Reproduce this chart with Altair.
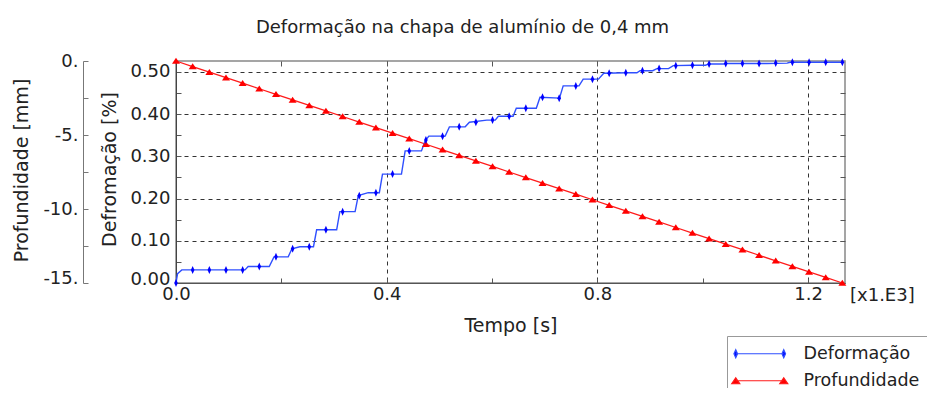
import altair as alt
import pandas as pd

# ---------------- data ----------------
series = ["Deformação", "Profundidade"]
cores_linha = ["#2f4fff", "#ff1a1a"]

# marker times (x1000 s)
tempo = [0.0000, 0.0316, 0.0633, 0.0949, 0.1265, 0.1581, 0.1898, 0.2214, 0.2530, 0.2846,
         0.3163, 0.3479, 0.3795, 0.4111, 0.4428, 0.4744, 0.5060, 0.5376, 0.5693, 0.6009,
         0.6325, 0.6641, 0.6958, 0.7274, 0.7590, 0.7906, 0.8223, 0.8539, 0.8855, 0.9171,
         0.9488, 0.9804, 1.0120, 1.0436, 1.0753, 1.1069, 1.1385, 1.1701, 1.2018, 1.2334,
         1.2650]

# deformation at the markers (%)
deformacao_marcadores = [0.000, 0.031, 0.031, 0.031, 0.031, 0.039, 0.062, 0.081, 0.086, 0.126,
                         0.169, 0.207, 0.214, 0.258, 0.313, 0.339, 0.348, 0.370, 0.381, 0.386,
                         0.395, 0.414, 0.440, 0.438, 0.467, 0.483, 0.497, 0.498, 0.503, 0.508,
                         0.515, 0.516, 0.519, 0.520, 0.520, 0.520, 0.521, 0.523, 0.523, 0.523,
                         0.523]

# depth at the markers (mm)
profundidade = [0.0, -0.375, -0.75, -1.125, -1.5, -1.875, -2.25, -2.625, -3.0, -3.375,
                -3.75, -4.125, -4.5, -4.875, -5.25, -5.625, -6.0, -6.375, -6.75, -7.125,
                -7.5, -7.875, -8.25, -8.625, -9.0, -9.375, -9.75, -10.125, -10.5, -10.875,
                -11.25, -11.625, -12.0, -12.375, -12.75, -13.125, -13.5, -13.875, -14.25, -14.625,
                -15.0]

# stair-shaped deformation curve (vertices)
tempo_linha = [0.000, 0.003, 0.011, 0.131, 0.137, 0.177, 0.186, 0.213, 0.220, 0.235,
               0.261, 0.267, 0.305, 0.311, 0.340, 0.346, 0.365, 0.386, 0.392, 0.428,
               0.435, 0.466, 0.473, 0.480, 0.511, 0.519, 0.549, 0.557, 0.590, 0.606,
               0.612, 0.640, 0.646, 0.684, 0.691, 0.728, 0.735, 0.765, 0.773, 0.802,
               0.812, 0.856, 0.875, 0.881, 0.905, 0.913, 0.935, 0.944, 0.982, 1.005,
               1.012, 1.040, 1.046, 1.122, 1.160, 1.166, 1.265]
deformacao_linha = [0.000, 0.022, 0.031, 0.031, 0.039, 0.039, 0.062, 0.062, 0.081, 0.086,
                    0.086, 0.126, 0.126, 0.169, 0.169, 0.207, 0.214, 0.214, 0.258, 0.258,
                    0.313, 0.313, 0.337, 0.348, 0.348, 0.370, 0.370, 0.381, 0.386, 0.386,
                    0.395, 0.395, 0.414, 0.414, 0.440, 0.438, 0.467, 0.467, 0.483, 0.483,
                    0.497, 0.498, 0.498, 0.503, 0.503, 0.508, 0.508, 0.515, 0.516, 0.516,
                    0.519, 0.519, 0.520, 0.520, 0.521, 0.523, 0.523]

x_ticks = [0.0, 0.2, 0.4, 0.6, 0.8, 1.0, 1.2]
def_ticks = [0.0, 0.05, 0.10, 0.15, 0.20, 0.25, 0.30, 0.35, 0.40, 0.45, 0.50]
prof_ticks = [0.0, -2.5, -5.0, -7.5, -10.0, -12.5, -15.0]

df_def_linha = pd.DataFrame({"tempo": tempo_linha, "valor": deformacao_linha, "serie": series[0]})
df_def_pts = pd.DataFrame({"tempo": tempo, "valor": deformacao_marcadores})
df_prof = pd.DataFrame({"tempo": tempo, "valor": profundidade, "serie": series[1]})

FONT = "DejaVu Sans"

# ---------------- scales ----------------
x_scale = alt.Scale(domain=[0, 1.27], nice=False, zero=False)
def_scale = alt.Scale(domain=[0, 0.526], nice=False, zero=False)
prof_scale = alt.Scale(domain=[-15, 0], nice=False, zero=False)

inward = {"expr": "-5"}

eixo_x = alt.Axis(
    orient="bottom", values=x_ticks, title="Tempo [s]",
    labelExpr="round(datum.value*10) % 4 == 0 ? format(datum.value, '.1f') : ''",
    tickSize=inward, labelPadding=7, tickColor="#555", domainColor="#555",
    grid=True, gridDash=[4, 4], gridColor="#333", gridWidth=1,
    gridOpacity={"condition": {"test": "round(datum.value*10) % 4 == 0 && datum.value > 0", "value": 1}, "value": 0},
    titleBaseline="alphabetic", titleY=48, labelFlush=False, labelOverlap=False,
)
eixo_x_topo = alt.Axis(orient="top", values=x_ticks, labels=False, domain=False, grid=False,
                       tickSize=inward, tickColor="#555", title=None)
eixo_def = alt.Axis(
    orient="left", values=def_ticks, title="Defromação [%]",
    labelExpr="round(datum.value*100) % 10 == 0 ? format(datum.value, '.2f') : ''",
    tickSize=inward, labelPadding=11, tickColor="#555", domainColor="#444",
    labelOffset={"condition": {"test": "datum.value == 0", "value": -4}, "value": 0},
    grid=True, gridDash=[4, 4], gridColor="#333", gridWidth=1,
    gridOpacity={"condition": {"test": "round(datum.value*100) % 10 == 0 && datum.value > 0", "value": 1}, "value": 0},
    titleAngle=270, titleBaseline="alphabetic", titleX=-61, titleY=108, titleAlign="center",
    labelFlush=False, labelOverlap=False,
)
eixo_dir = alt.Axis(orient="right", values=def_ticks, labels=False, domain=False, grid=False,
                    tickSize=inward, tickColor="#555", title=None)
eixo_prof = alt.Axis(
    orient="left", offset=93, values=prof_ticks, title="Profundidade [mm]",
    labelExpr="datum.value % 5 == 0 ? datum.value + '.' : ''",
    tickSize=inward, labelPadding=10, tickColor="#777", domainColor="#777",
    labelOffset={"condition": {"test": "datum.value == -15", "value": -5}, "value": 0},
    grid=False, titleAngle=270, titleBaseline="alphabetic", titleX=-56, titleY=109,
    titleAlign="center", labelFlush=False, labelOverlap=False,
)

sym_def = "M-1.8,0L7.8,0M-1.8,-0.8L-1.44,0L-1.8,0.8L-2.16,0ZM7.8,-0.8L8.16,0L7.8,0.8L7.44,0Z"
sym_prof = "M-1.8,0L7.8,0M-1.8,-0.6L-1,0.6L-2.6,0.6ZM7.8,-0.6L8.6,0.6L7,0.6Z"

legenda = alt.Legend(
    orient="none", legendX=551, legendY=275, symbolSize=100,
    labelFont=FONT, labelFontSize=17.5, labelColor="#222", labelOffset=50,
    padding=9, rowPadding=8, strokeColor="#999", fillColor="white",
    symbolType={"expr": f"datum.value == 'Profundidade' ? '{sym_prof}' : '{sym_def}'"},
    symbolFillColor={"expr": "datum.value == 'Profundidade' ? '#ff0000' : '#0000ff'"},
    symbolStrokeWidth=1.2, symbolOpacity=1,
)
cor = alt.Color("serie:N", scale=alt.Scale(domain=series, range=cores_linha), title=None, legend=legenda)

linha_prof = alt.Chart(df_prof).mark_line(strokeWidth=1.3).encode(
    x=alt.X("tempo:Q", scale=x_scale, axis=None),
    y=alt.Y("valor:Q", scale=prof_scale, axis=eixo_prof),
    color=cor,
)
linha_def = alt.Chart(df_def_linha).mark_line(strokeWidth=1.4).encode(
    x=alt.X("tempo:Q", scale=x_scale, axis=eixo_x),
    y=alt.Y("valor:Q", scale=def_scale, axis=eixo_def),
    color=cor,
)
pts_prof = alt.Chart(df_prof).mark_point(
    shape="M0,-0.8L1,0.7L-1,0.7Z", filled=True, size=64, color="#ff0000", opacity=1, strokeWidth=0
).encode(
    x=alt.X("tempo:Q", scale=x_scale, axis=None),
    y=alt.Y("valor:Q", scale=prof_scale, axis=None),
)
pts_def = alt.Chart(df_def_pts).mark_point(
    shape="M0,-1L0.45,0L0,1L-0.45,0Z", filled=True, size=64, color="#0000ff", opacity=1, strokeWidth=0
).encode(
    x=alt.X("tempo:Q", scale=x_scale, axis=eixo_x_topo),
    y=alt.Y("valor:Q", scale=def_scale, axis=eixo_dir),
)
texto = alt.Chart(pd.DataFrame({"t": ["[x1.E3]"]})).mark_text(
    font=FONT, fontSize=18, color="#222", align="left", baseline="alphabetic"
).encode(x=alt.value(674), y=alt.value(240), text="t:N")

chart = alt.layer(linha_prof, linha_def, pts_prof, pts_def, texto).resolve_scale(
    y="independent"
).resolve_axis(
    x="independent", y="independent"
).properties(
    width=669, height=222,
    padding={"left": 168, "top": 53, "right": 82, "bottom": 105},
    autosize=alt.AutoSizeParams(type="none"),
    title=alt.TitleParams(
        "Deformação na chapa de alumínio de 0,4 mm", font=FONT, fontSize=18,
        fontWeight="normal", color="#222", anchor="middle", frame="group",
        dx=-48, offset=1, baseline="alphabetic",
    ),
).configure_view(
    stroke="#888", strokeWidth=1.5
).configure_axis(
    labelFont=FONT, labelFontSize=18, labelColor="#222",
    titleFont=FONT, titleFontSize=19, titleFontWeight="normal", titleColor="#222",
)

chart.save("out.html", embed_options={"renderer": "svg", "actions": False})
